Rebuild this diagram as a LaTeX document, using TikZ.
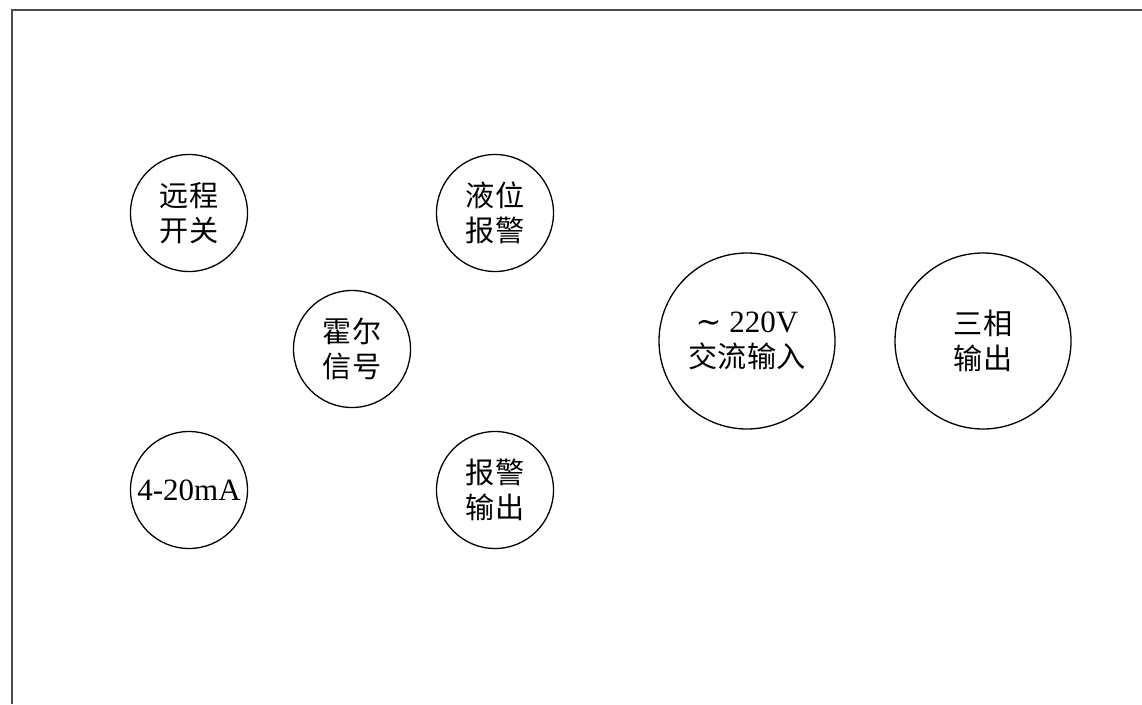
\documentclass[tikz,border=0pt]{standalone}
\usepackage{fontspec}
\setmainfont{Liberation Serif}
\newfontfamily\cjk{Noto Sans CJK SC}[Scale=0.94]
\newfontfamily\symf{DejaVu Serif}
\begin{document}
\begin{tikzpicture}[x=1pt,y=-1pt,
  port/.style={circle,draw=black,line width=1.3pt,inner sep=0pt,minimum size=#1,align=center,font=\fontsize{31}{35}\selectfont}]
\useasboundingbox (0,0) rectangle (1142,704);
\draw[line width=2pt,draw=black!70] (12,704) -- (12,10) -- (1142,10);
\node[port=117pt] (rs) at (189,213) {\cjk 远程\\\cjk 开关};
\node[port=117pt] (yw) at (495,213) {\cjk 液位\\\cjk 报警};
\node[port=117pt] (he) at (352,349) {\cjk 霍尔\\\cjk 信号};
\node[port=117pt] (ma) at (189,490) {4-20mA};
\node[port=117pt] (bj) at (495,490) {\cjk 报警\\\cjk 输出};
\node[port=176pt] (ac) at (747,341) {{\symf ∼} 220V\\\cjk 交流输入};
\node[port=176pt] (sx) at (983,341) {\cjk 三相\\\cjk 输出};
\end{tikzpicture}
\end{document}
